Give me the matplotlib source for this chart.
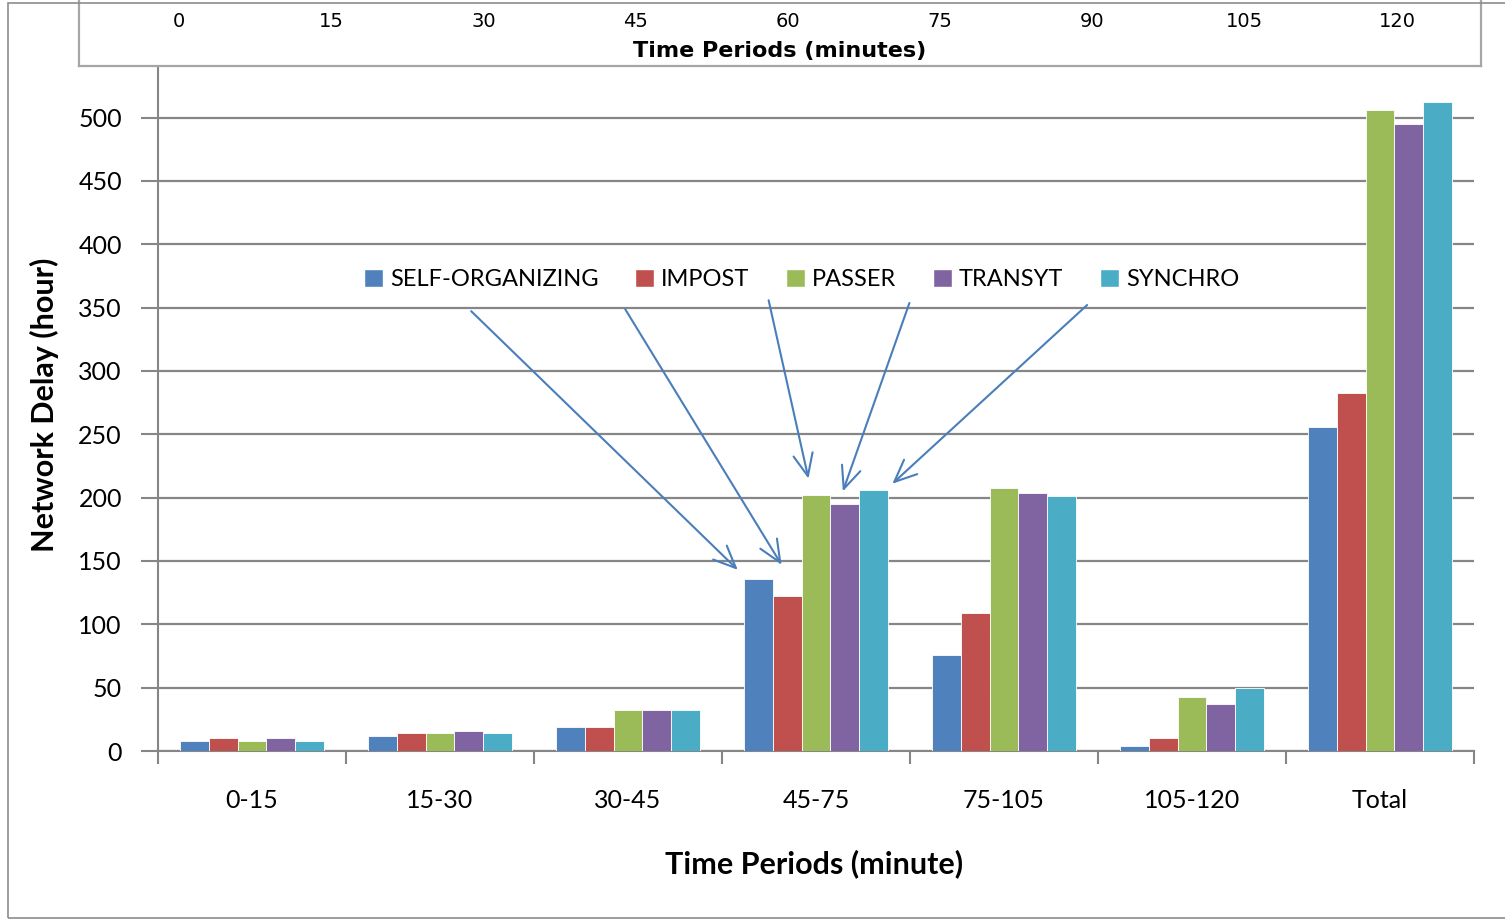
import matplotlib
matplotlib.use("Agg")
import matplotlib.pyplot as plt
from matplotlib.patches import Rectangle, Patch
import numpy as np

# ---- data ----
periods = ["0-15", "15-30", "30-45", "45-75", "75-105", "105-120", "Total"]
series_names = ["SELF-ORGANIZING", "IMPOST", "PASSER", "TRANSYT", "SYNCHRO"]
self_organizing = [8, 12, 19, 136, 76, 4, 256]
impost = [10, 14, 19, 122, 109, 10, 283]
passer = [8, 14, 32, 202, 208, 43, 506]
transyt = [10, 16, 32, 195, 204, 37, 495]
synchro = [8, 14, 32, 206, 201, 50, 512]
y_ticks = [0, 50, 100, 150, 200, 250, 300, 350, 400, 450, 500]
top_ticks = [0, 15, 30, 45, 60, 75, 90, 105, 120]

colors = ["#4F81BD", "#C0504D", "#9BBB59", "#8064A2", "#4BACC6"]
all_series = [self_organizing, impost, passer, transyt, synchro]

W, H = 1505, 921
fig = plt.figure(figsize=(W / 100, H / 100), dpi=100)
plt.rcParams['font.family'] = ['Lato', 'DejaVu Sans']

# outer chart frame
fig.patches.append(Rectangle((8 / W, 3 / H), 1.1, (918 - 3) / H, transform=fig.transFigure,
                             fill=False, edgecolor="#8c8c8c", lw=1.2, zorder=0))

# ---- main axes ----
ax = fig.add_axes([158 / W, (H - 751) / H, 1316 / W, 684 / H])
bw = 0.153
x = np.arange(len(periods))
bars = []
for i, (vals, c) in enumerate(zip(all_series, colors)):
    b = ax.bar(x + (i - 2) * bw, vals, width=bw, color=c, edgecolor="white",
               linewidth=0.6, label=series_names[i], zorder=3)
    bars.append(b)

ax.set_xlim(-0.5, len(periods) - 0.5)
ax.set_ylim(0, 540)
ax.set_yticks(y_ticks)
ax.set_xticks(x)
ax.set_xticklabels(periods, fontsize=18)
ax.set_xticks(np.arange(-0.5, len(periods)), minor=True)
ax.tick_params(axis='x', which='major', length=0, pad=27)
ax.tick_params(axis='x', which='minor', length=9, width=1.5, color="#868686", direction='out')
ax.tick_params(axis='y', length=12, width=1.5, color="#868686", direction='out', labelsize=18, pad=14)
ax.grid(axis='y', color="#868686", linewidth=1.6, zorder=0)
for s in ["top", "right"]:
    ax.spines[s].set_visible(False)
for s in ["left", "bottom"]:
    ax.spines[s].set_color("#868686")
    ax.spines[s].set_linewidth(1.5)

ax.set_ylabel("Network Delay (hour)", fontsize=22, fontweight='bold')
ax.yaxis.set_label_coords(-0.075, 0.506)
ax.set_xlabel("Time Periods (minute)", fontsize=22, fontweight='bold')
ax.xaxis.set_label_coords(0.4985, -0.143)

handles = [Patch(facecolor=c, edgecolor="white") for c in colors]
ax.legend(handles, series_names, loc="center", bbox_to_anchor=(0.489, 0.689), ncol=5,
          frameon=False, fontsize=17, handlelength=0.8, handleheight=0.8,
          handletextpad=0.3, columnspacing=1.55)

# arrows from legend entries to the 45-75 bars
tails = [(0.238, 0.643), (0.355, 0.646), (0.464, 0.659), (0.571, 0.655), (0.706, 0.652)]
head_offsets = [(-0.11, 7), (-0.03, 25), (-0.04, 13), (-0.01, 10), (0.10, 5)]
g = periods.index("45-75")
for i, ((tx, ty), (dx, dy)) in enumerate(zip(tails, head_offsets)):
    rect = bars[i][g]
    hx = rect.get_x() + rect.get_width() / 2 + dx
    hy = rect.get_height() + dy
    ax.annotate("", xy=(hx, hy), xycoords='data', xytext=(tx, ty), textcoords='axes fraction',
                arrowprops=dict(arrowstyle="->,head_length=0.8,head_width=0.35",
                                color="#4A7EBB", lw=1.5, mutation_scale=20,
                                shrinkA=0, shrinkB=0), zorder=5)

# ---- top secondary time box ----
px = 1218 / 120
tax = fig.add_axes([79 / W, (H - 66) / H, (1481 - 79) / W, 70 / H])
tax.set_facecolor("white")
tax.set_xlim(0 - (179 - 79) / px, 120 + (1481 - 1397) / px)
tax.set_ylim(0, 1)
tax.set_yticks([])
tax.set_xticks(top_ticks)
tax.set_xticklabels([str(t) for t in top_ticks], family='DejaVu Sans', fontsize=14)
tax.tick_params(axis='x', top=False, bottom=False, labeltop=True, labelbottom=False, pad=-29)
tax.set_xlabel("Time Periods (minutes)", family='DejaVu Sans', fontsize=16, fontweight='bold')
tax.xaxis.set_label_coords(0.5, 0.36)
tax.spines["top"].set_visible(False)
for s in ["left", "right", "bottom"]:
    tax.spines[s].set_color("#a6a6a6")
    tax.spines[s].set_linewidth(1.6)

fig.savefig("out.png", dpi=100)
